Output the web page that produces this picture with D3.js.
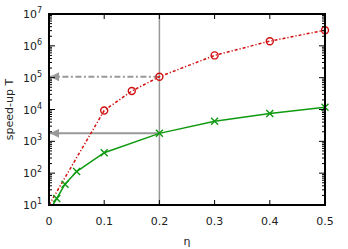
<!DOCTYPE html>
<html>
<head>
<meta charset="utf-8">
<script src="https://cdn.jsdelivr.net/npm/d3@7"></script>
<style>
  body { margin: 0; background: #fff; }
  text { font-family: "DejaVu Sans", sans-serif; fill: #222; }
</style>
</head>
<body>
<div id="chart"></div>
<script>
// red series (circles), first point has no marker
var redEta = [0, 0.1, 0.15, 0.2, 0.3, 0.4, 0.5];
var redT = [10, 9300, 38000, 107000, 500000, 1400000, 3100000];
var redMark = [false, true, true, true, true, true, true];

// green series (crosses)
var greenEta = [0.007, 0.014, 0.029, 0.05, 0.1, 0.2, 0.3, 0.4, 0.5];
var greenT = [10, 16, 45, 112, 440, 1780, 4300, 7500, 11700];
var greenMark = [false, true, true, true, true, true, true, true, true];

var xTicks = [0, 0.1, 0.2, 0.3, 0.4, 0.5];
var yExps = [1, 2, 3, 4, 5, 6, 7];
var markEta = 0.2;

var width = 348, height = 249;
var margin = {top: 14, left: 49, right: 23, bottom: 44};
var w = width - margin.left - margin.right;
var h = height - margin.top - margin.bottom;

var svg = d3.select('#chart').append('svg')
    .attr('width', width)
    .attr('height', height);

var defs = svg.append('defs');
defs.append('marker')
    .attr('id', 'arrow')
    .attr('viewBox', '0 0 10 10')
    .attr('refX', 10).attr('refY', 5)
    .attr('markerWidth', 11).attr('markerHeight', 9)
    .attr('markerUnits', 'userSpaceOnUse')
    .attr('orient', 'auto-start-reverse')
    .append('path')
    .attr('d', 'M0,0 L10,5 L0,10 z')
    .attr('fill', '#999');

var g = svg.append('g')
    .attr('transform', 'translate(' + margin.left + ',' + margin.top + ')');

var xScale = d3.scaleLinear().domain([0, 0.5]).range([0, w]);
var yScale = d3.scaleLog().domain([10, 1e7]).range([h, 0]);

// clip for data lines
defs.append('clipPath').attr('id', 'clip')
    .append('rect').attr('width', w).attr('height', h);

// vertical line at eta = 0.2
g.append('line')
    .attr('x1', xScale(markEta)).attr('x2', xScale(markEta))
    .attr('y1', 0).attr('y2', h)
    .attr('stroke', '#999').attr('stroke-width', 1.5);

// arrows to the axis
var redAt = redT[redEta.indexOf(markEta)];
var greenAt = greenT[greenEta.indexOf(markEta)];
g.append('line')
    .attr('x1', xScale(markEta)).attr('x2', 1)
    .attr('y1', yScale(redAt)).attr('y2', yScale(redAt))
    .attr('stroke', '#999').attr('stroke-width', 2)
    .attr('stroke-dasharray', '6,2.5,2,2.5')
    .attr('marker-end', 'url(#arrow)');
g.append('line')
    .attr('x1', xScale(markEta)).attr('x2', 1)
    .attr('y1', yScale(greenAt)).attr('y2', yScale(greenAt))
    .attr('stroke', '#999').attr('stroke-width', 2)
    .attr('marker-end', 'url(#arrow)');

function drawSeries(eta, T, marks, color, dash, shape) {
    var pts = eta.map(function (d, i) { return {x: d, y: T[i], m: marks[i]}; });
    var line = d3.line()
        .x(function (d) { return xScale(d.x); })
        .y(function (d) { return yScale(d.y); });
    g.append('path')
        .datum(pts)
        .attr('clip-path', 'url(#clip)')
        .attr('fill', 'none')
        .attr('stroke', color)
        .attr('stroke-width', 1.5)
        .attr('stroke-dasharray', dash)
        .attr('d', line);
    var m = pts.filter(function (d) { return d.m; });
    if (shape === 'circle') {
        g.selectAll('.c-' + color.slice(1))
            .data(m).enter()
            .append('circle')
            .attr('cx', function (d) { return xScale(d.x); })
            .attr('cy', function (d) { return yScale(d.y); })
            .attr('r', 3.5)
            .attr('fill', 'none')
            .attr('stroke', color)
            .attr('stroke-width', 1.4);
    } else {
        g.selectAll('.x-' + color.slice(1))
            .data(m).enter()
            .append('path')
            .attr('transform', function (d) {
                return 'translate(' + xScale(d.x) + ',' + yScale(d.y) + ')';
            })
            .attr('d', 'M-3.5,-3.5L3.5,3.5M-3.5,3.5L3.5,-3.5')
            .attr('stroke', color)
            .attr('stroke-width', 1.4);
    }
}

drawSeries(redEta, redT, redMark, '#d01010', '3,2,1.2,2', 'circle');
drawSeries(greenEta, greenT, greenMark, '#109a10', null, 'cross');

// ticks
var ticks = g.append('g').attr('stroke', '#000').attr('stroke-width', 1);
xTicks.forEach(function (t) {
    var x = xScale(t);
    ticks.append('line').attr('x1', x).attr('x2', x).attr('y1', h).attr('y2', h - 5);
    ticks.append('line').attr('x1', x).attr('x2', x).attr('y1', 0).attr('y2', 5);
});
yExps.forEach(function (e, i) {
    var v = Math.pow(10, e);
    var y = yScale(v);
    ticks.append('line').attr('x1', 0).attr('x2', 6).attr('y1', y).attr('y2', y);
    ticks.append('line').attr('x1', w).attr('x2', w - 6).attr('y1', y).attr('y2', y);
    if (i < yExps.length - 1) {
        for (var k = 2; k <= 9; k++) {
            var ym = yScale(k * v);
            ticks.append('line').attr('x1', 0).attr('x2', 3).attr('y1', ym).attr('y2', ym);
            ticks.append('line').attr('x1', w).attr('x2', w - 3).attr('y1', ym).attr('y2', ym);
        }
    }
});

// frame
g.append('rect')
    .attr('width', w).attr('height', h)
    .attr('fill', 'none')
    .attr('stroke', '#000').attr('stroke-width', 2);

// tick labels
g.selectAll('.xlab')
    .data(xTicks).enter()
    .append('text')
    .attr('x', function (d) { return xScale(d); })
    .attr('y', h + 20)
    .attr('text-anchor', 'middle')
    .attr('font-size', 11)
    .text(function (d) { return d === 0 ? '0' : d3.format('.1f')(d); });

yExps.forEach(function (e) {
    var t = g.append('text')
        .attr('x', -7)
        .attr('y', yScale(Math.pow(10, e)) + 4)
        .attr('text-anchor', 'end')
        .attr('font-size', 11);
    t.append('tspan').text('10');
    t.append('tspan').attr('dy', -5).attr('font-size', 8).text(e);
});

// axis labels
g.append('text')
    .attr('x', xScale(0.25))
    .attr('y', h + 40)
    .attr('text-anchor', 'middle')
    .attr('font-size', 11)
    .text('η');

g.append('text')
    .attr('transform', 'translate(' + (-36) + ',' + (h / 2) + ') rotate(-90)')
    .attr('text-anchor', 'middle')
    .attr('font-size', 11)
    .text('speed-up T');
</script>
</body>
</html>
